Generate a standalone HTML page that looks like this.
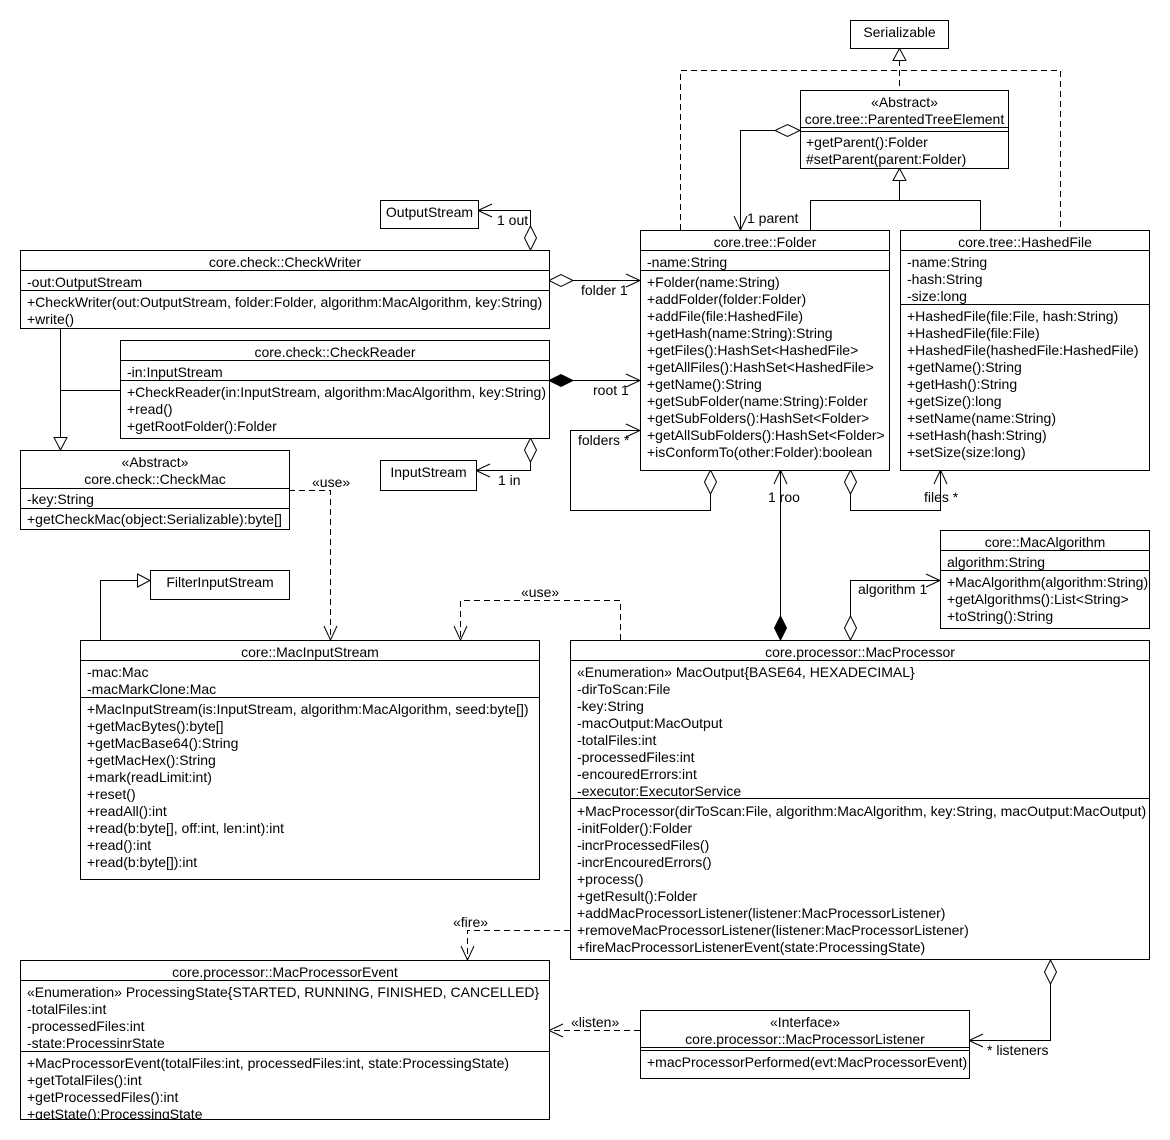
<!DOCTYPE html>
<html><head><meta charset="utf-8"><style>
html,body{margin:0;padding:0;background:#fff;}
svg{display:block;font-family:"Liberation Sans",Arial,sans-serif;font-size:14px;}
text{fill:#000;}
.b{fill:#fff;stroke:#000;stroke-width:1;}
.l{fill:none;stroke:#000;stroke-width:1;}
.d{fill:none;stroke:#000;stroke-width:1;stroke-dasharray:6,4;}
.c{text-anchor:middle;}
</style></head><body>
<svg width="1170" height="1140" viewBox="0 0 1170 1140" xmlns="http://www.w3.org/2000/svg">

<path class="d" d="M899.5,60 V90 M680.5,230 V70.5 H1060.5 V230"/>
<path class="b" d="M899.5,48.5 L893,60.5 L906,60.5 Z"/>
<path class="l" d="M899.5,180 V200.5 M810.5,230 V200.5 H980.5 V230"/>
<path class="b" d="M899.5,168.5 L893,180.5 L906,180.5 Z"/>
<path class="l" d="M775,130.5 H740.5 V230"/>
<path class="b" d="M800,130.5 L787.5,124.5 L775,130.5 L787.5,136.5 Z"/>
<path class="l" d="M734,216 L740.5,230 L747,216"/>
<text x="747" y="223">1 parent</text>

<path class="l" d="M530.5,226 V210.5 H478"/>
<path class="b" d="M530.5,250 L524.5,238 L530.5,226 L536.5,238 Z"/>
<path class="l" d="M492,204 L478,210.5 L492,217"/>
<text x="497" y="225">1 out</text>
<path class="l" d="M573,280.5 H640"/>
<path class="b" d="M549,280.5 L561,274.5 L573,280.5 L561,286.5 Z"/>
<path class="l" d="M626,274 L640,280.5 L626,287"/>
<text x="581" y="295">folder 1</text>
<path class="l" d="M573,380.5 H640"/>
<path d="M549,380.5 L561,374.5 L573,380.5 L561,386.5 Z" fill="#000" stroke="#000"/>
<path class="l" d="M626,374 L640,380.5 L626,387"/>
<text x="593" y="395">root 1</text>
<path class="l" d="M530.5,462 V470.5 H476"/>
<path class="b" d="M530.5,438 L524.5,450 L530.5,462 L536.5,450 Z"/>
<path class="l" d="M490,464 L476,470.5 L490,477"/>
<text x="498" y="485">1 in</text>

<path class="l" d="M640,430.5 H570.5 V510.5 H710.5 V494"/>
<path class="b" d="M710.5,470 L704.5,482 L710.5,494 L716.5,482 Z"/>
<path class="l" d="M626,424 L640,430.5 L626,437"/>
<text x="578" y="445">folders *</text>
<path class="l" d="M850.5,494 V510.5 H940.5 V470"/>
<path class="b" d="M850.5,470 L844.5,482 L850.5,494 L856.5,482 Z"/>
<path class="l" d="M934,484 L940.5,470 L947,484"/>
<text x="924" y="502">files *</text>

<text x="768" y="502">1 roo</text>
<path class="l" d="M780.5,616 V470"/>
<path d="M780.5,640 L774.5,628 L780.5,616 L786.5,628 Z" fill="#000" stroke="#000"/>
<path class="l" d="M774,484 L780.5,470 L787,484"/>
<path class="l" d="M850.5,616 V580.5 H940"/>
<path class="b" d="M850.5,640 L844.5,628 L850.5,616 L856.5,628 Z"/>
<path class="l" d="M926,574 L940,580.5 L926,587"/>
<text x="858" y="594">algorithm 1</text>

<path class="l" d="M60.5,328 V437 M120,390.5 H60.5"/>
<path class="b" d="M60.5,450 L54,437.5 L67,437.5 Z"/>
<path class="d" d="M289,490.5 H330.5 V640"/>
<path class="l" d="M324,626 L330.5,640 L337,626"/>
<text x="312" y="487">«use»</text>
<path class="l" d="M100.5,640 V580.5 H137"/>
<path class="b" d="M150,580.5 L137.5,574 L137.5,587 Z"/>
<path class="d" d="M620.5,640 V600.5 H460.5 V640"/>
<path class="l" d="M454,626 L460.5,640 L467,626"/>
<text x="521" y="597">«use»</text>
<path class="d" d="M570,930.5 H467.5 V960"/>
<path class="l" d="M461,946 L467.5,960 L474,946"/>
<text x="453" y="927">«fire»</text>
<path class="d" d="M640,1030.5 H549"/>
<path class="l" d="M563,1024 L549,1030.5 L563,1037"/>
<text x="571" y="1027">«listen»</text>
<path class="l" d="M1050.5,984 V1040.5 H969"/>
<path class="b" d="M1050.5,960 L1044.5,972 L1050.5,984 L1056.5,972 Z"/>
<path class="l" d="M983,1034 L969,1040.5 L983,1047"/>
<text x="987" y="1055">* listeners</text>

<rect class="b" x="850.5" y="20.5" width="98" height="28"/>
<text class="c" x="899.5" y="37">Serializable</text>

<rect class="b" x="800.5" y="90.5" width="208" height="78"/>
<text class="c" x="904.5" y="107">«Abstract»</text>
<text class="c" x="904.5" y="124">core.tree::ParentedTreeElement</text>
<path class="l" d="M800.5,127.5 H1008.5 M800.5,131.5 H1008.5"/>
<text x="806" y="147">+getParent():Folder</text>
<text x="806" y="164">#setParent(parent:Folder)</text>

<rect class="b" x="640.5" y="230.5" width="249" height="240"/>
<text class="c" x="765" y="247">core.tree::Folder</text>
<path class="l" d="M640.5,250.5 H889.5 M640.5,270.5 H889.5"/>
<text x="647" y="267">-name:String</text>
<text x="647" y="287">+Folder(name:String)</text>
<text x="647" y="304">+addFolder(folder:Folder)</text>
<text x="647" y="321">+addFile(file:HashedFile)</text>
<text x="647" y="338">+getHash(name:String):String</text>
<text x="647" y="355">+getFiles():HashSet&lt;HashedFile&gt;</text>
<text x="647" y="372">+getAllFiles():HashSet&lt;HashedFile&gt;</text>
<text x="647" y="389">+getName():String</text>
<text x="647" y="406">+getSubFolder(name:String):Folder</text>
<text x="647" y="423">+getSubFolders():HashSet&lt;Folder&gt;</text>
<text x="647" y="440">+getAllSubFolders():HashSet&lt;Folder&gt;</text>
<text x="647" y="457">+isConformTo(other:Folder):boolean</text>

<rect class="b" x="900.5" y="230.5" width="249" height="240"/>
<text class="c" x="1025" y="247">core.tree::HashedFile</text>
<path class="l" d="M900.5,250.5 H1149.5 M900.5,304.5 H1149.5"/>
<text x="907" y="267">-name:String</text>
<text x="907" y="284">-hash:String</text>
<text x="907" y="301">-size:long</text>
<text x="907" y="321">+HashedFile(file:File, hash:String)</text>
<text x="907" y="338">+HashedFile(file:File)</text>
<text x="907" y="355">+HashedFile(hashedFile:HashedFile)</text>
<text x="907" y="372">+getName():String</text>
<text x="907" y="389">+getHash():String</text>
<text x="907" y="406">+getSize():long</text>
<text x="907" y="423">+setName(name:String)</text>
<text x="907" y="440">+setHash(hash:String)</text>
<text x="907" y="457">+setSize(size:long)</text>

<rect class="b" x="380.5" y="200.5" width="98" height="28"/>
<text class="c" x="429.5" y="217">OutputStream</text>

<rect class="b" x="20.5" y="250.5" width="529" height="78"/>
<text class="c" x="285" y="267">core.check::CheckWriter</text>
<path class="l" d="M20.5,270.5 H549.5 M20.5,290.5 H549.5"/>
<text x="27" y="287">-out:OutputStream</text>
<text x="27" y="307">+CheckWriter(out:OutputStream, folder:Folder, algorithm:MacAlgorithm, key:String)</text>
<text x="27" y="324">+write()</text>

<rect class="b" x="120.5" y="340.5" width="429" height="98"/>
<text class="c" x="335" y="357">core.check::CheckReader</text>
<path class="l" d="M120.5,360.5 H549.5 M120.5,380.5 H549.5"/>
<text x="127" y="377">-in:InputStream</text>
<text x="127" y="397">+CheckReader(in:InputStream, algorithm:MacAlgorithm, key:String)</text>
<text x="127" y="414">+read()</text>
<text x="127" y="431">+getRootFolder():Folder</text>

<rect class="b" x="380.5" y="460.5" width="96" height="30"/>
<text class="c" x="428.5" y="477">InputStream</text>

<rect class="b" x="20.5" y="450.5" width="269" height="79"/>
<text class="c" x="155" y="467">«Abstract»</text>
<text class="c" x="155" y="484">core.check::CheckMac</text>
<path class="l" d="M20.5,488.5 H289.5 M20.5,508.5 H289.5"/>
<text x="27" y="504">-key:String</text>
<text x="27" y="524">+getCheckMac(object:Serializable):byte[]</text>

<rect class="b" x="150.5" y="570.5" width="139" height="29"/>
<text class="c" x="220" y="587">FilterInputStream</text>

<rect class="b" x="80.5" y="640.5" width="459" height="239"/>
<text class="c" x="310" y="657">core::MacInputStream</text>
<path class="l" d="M80.5,660.5 H539.5 M80.5,697.5 H539.5"/>
<text x="87" y="677">-mac:Mac</text>
<text x="87" y="694">-macMarkClone:Mac</text>
<text x="87" y="714">+MacInputStream(is:InputStream, algorithm:MacAlgorithm, seed:byte[])</text>
<text x="87" y="731">+getMacBytes():byte[]</text>
<text x="87" y="748">+getMacBase64():String</text>
<text x="87" y="765">+getMacHex():String</text>
<text x="87" y="782">+mark(readLimit:int)</text>
<text x="87" y="799">+reset()</text>
<text x="87" y="816">+readAll():int</text>
<text x="87" y="833">+read(b:byte[], off:int, len:int):int</text>
<text x="87" y="850">+read():int</text>
<text x="87" y="867">+read(b:byte[]):int</text>

<rect class="b" x="940.5" y="530.5" width="209" height="98"/>
<text class="c" x="1045" y="547">core::MacAlgorithm</text>
<path class="l" d="M940.5,550.5 H1149.5 M940.5,570.5 H1149.5"/>
<text x="947" y="567">algorithm:String</text>
<text x="947" y="587">+MacAlgorithm(algorithm:String)</text>
<text x="947" y="604">+getAlgorithms():List&lt;String&gt;</text>
<text x="947" y="621">+toString():String</text>

<rect class="b" x="570.5" y="640.5" width="579" height="319"/>
<text class="c" x="860" y="657">core.processor::MacProcessor</text>
<path class="l" d="M570.5,660.5 H1149.5 M570.5,798.5 H1149.5"/>
<text x="577" y="677">«Enumeration» MacOutput{BASE64, HEXADECIMAL}</text>
<text x="577" y="694">-dirToScan:File</text>
<text x="577" y="711">-key:String</text>
<text x="577" y="728">-macOutput:MacOutput</text>
<text x="577" y="745">-totalFiles:int</text>
<text x="577" y="762">-processedFiles:int</text>
<text x="577" y="779">-encouredErrors:int</text>
<text x="577" y="796">-executor:ExecutorService</text>
<text x="577" y="816">+MacProcessor(dirToScan:File, algorithm:MacAlgorithm, key:String, macOutput:MacOutput)</text>
<text x="577" y="833">-initFolder():Folder</text>
<text x="577" y="850">-incrProcessedFiles()</text>
<text x="577" y="867">-incrEncouredErrors()</text>
<text x="577" y="884">+process()</text>
<text x="577" y="901">+getResult():Folder</text>
<text x="577" y="918">+addMacProcessorListener(listener:MacProcessorListener)</text>
<text x="577" y="935">+removeMacProcessorListener(listener:MacProcessorListener)</text>
<text x="577" y="952">+fireMacProcessorListenerEvent(state:ProcessingState)</text>

<rect class="b" x="20.5" y="960.5" width="529" height="159"/>
<text class="c" x="285" y="977">core.processor::MacProcessorEvent</text>
<path class="l" d="M20.5,980.5 H549.5 M20.5,1051.5 H549.5"/>
<text x="27" y="997">«Enumeration» ProcessingState{STARTED, RUNNING, FINISHED, CANCELLED}</text>
<text x="27" y="1014">-totalFiles:int</text>
<text x="27" y="1031">-processedFiles:int</text>
<text x="27" y="1048">-state:ProcessinrState</text>
<text x="27" y="1068">+MacProcessorEvent(totalFiles:int, processedFiles:int, state:ProcessingState)</text>
<text x="27" y="1085">+getTotalFiles():int</text>
<text x="27" y="1102">+getProcessedFiles():int</text>
<text x="27" y="1119">+getState():ProcessingState</text>
<rect x="0" y="1120" width="1170" height="20" fill="#fff"/>
<path class="l" d="M20.5,1119.5 H549.5"/>

<rect class="b" x="640.5" y="1010.5" width="329" height="68"/>
<text class="c" x="805" y="1027">«Interface»</text>
<text class="c" x="805" y="1044">core.processor::MacProcessorListener</text>
<path class="l" d="M640.5,1047.5 H969.5 M640.5,1050.5 H969.5"/>
<text x="647" y="1067">+macProcessorPerformed(evt:MacProcessorEvent)</text>
</svg>
</body></html>
